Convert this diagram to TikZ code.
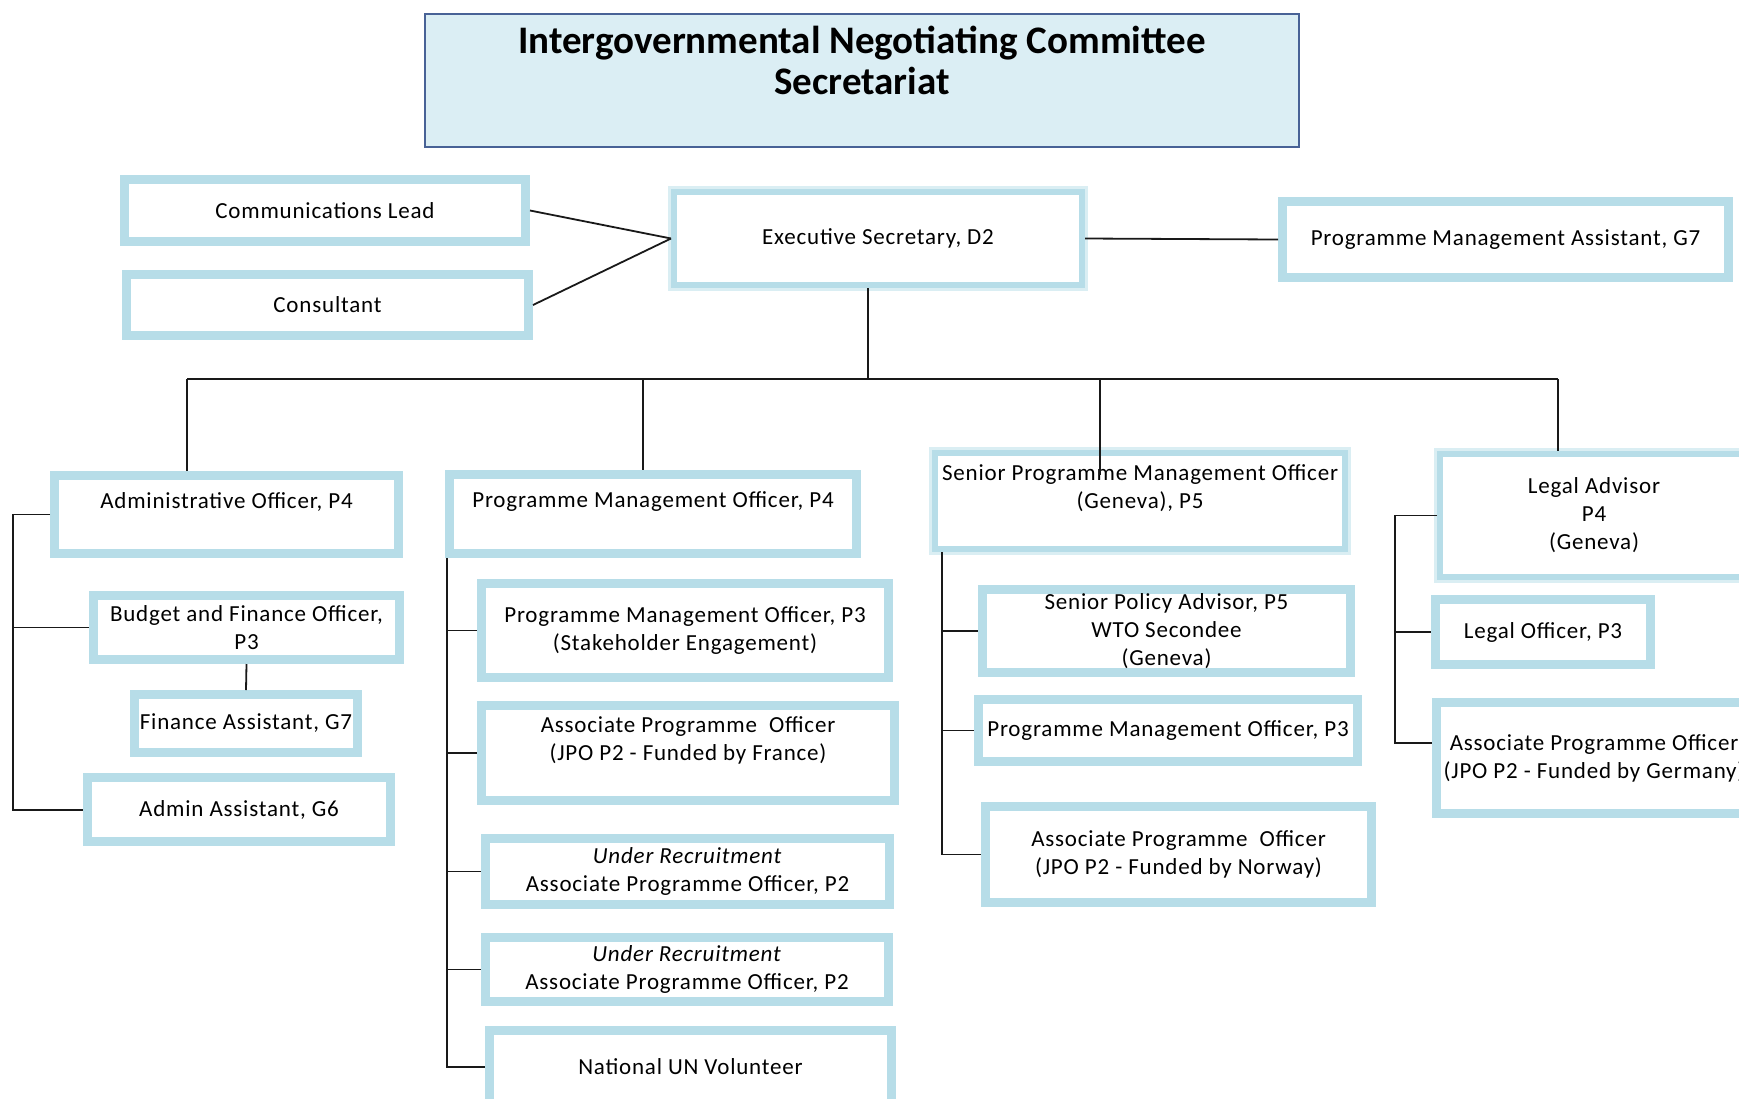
\documentclass[tikz,border=0pt]{standalone}
\usepackage{fontspec}
\setmainfont{Carlito}[LetterSpace=3.5]
\newfontfamily\titlefont{Carlito}
\usepackage{tikz}

\definecolor{boxblue}{RGB}{183,221,232}
\definecolor{paleblue}{RGB}{218,238,243}
\definecolor{titlefill}{RGB}{219,238,244}
\definecolor{titleline}{RGB}{72,98,150}

\tikzset{
  post/.style={draw=boxblue, line width=4.3pt, fill=white, align=center, inner sep=2pt,
    font=\fontsize{11.5}{14}\selectfont},
  headpost/.style={post, line width=3pt, preaction={draw=paleblue, line width=6pt}},
  title/.style={draw=titleline, fill=titlefill, line width=1.1pt, align=center, inner sep=0pt,
    font=\titlefont\fontsize{19.5}{20.5}\selectfont\bfseries},
  link/.style={draw=black!90, line width=0.9pt}
}

\begin{document}
\begin{tikzpicture}[x=0.5pt, y=-0.5pt]
  \useasboundingbox (0,0) rectangle (1739,1098);

  % secretariat
  \node[title, minimum width=437pt, minimum height=66.5pt] (ttl) at (862,80.5)
    {Intergovernmental Negotiating Committee\\Secretariat\\~};

  % direction
  \node[headpost, minimum width=204pt, minimum height=46.5pt] (exec) at (878,238.5) {Executive Secretary, D2};
  \node[post, minimum width=200.7pt, minimum height=31.2pt] (comm) at (325,210.5) {Communications Lead};
  \node[post, minimum width=201.2pt, minimum height=30.7pt] (cons) at (327.5,305) {Consultant};
  \node[post, minimum width=223.2pt, minimum height=38.2pt] (pma) at (1505.5,239.5) {Programme Management Assistant, G7};

  % administration
  \node[post, minimum width=172.2pt, minimum height=39.2pt] (adm) at (226.5,514.5) {Administrative Officer, P4\\~};
  \node[post, minimum width=153.2pt, minimum height=32.2pt] (bfo) at (246.5,627.5) {Budget and Finance Officer,\\P3};
  \node[post, minimum width=111.7pt, minimum height=29.2pt] (fa) at (246,723.5) {Finance Assistant, G7};
  \node[post, minimum width=151.7pt, minimum height=32.2pt] (aa) at (239,809.5) {Admin Assistant, G6};

  % programme
  \node[post, minimum width=203.7pt, minimum height=39.7pt] (pmo4) at (653,514) {Programme Management Officer, P4\\~};
  \node[post, minimum width=203.7pt, minimum height=47.2pt] (pmo3s) at (685,630.5) {Programme Management Officer, P3\\(Stakeholder Engagement)};
  \node[post, minimum width=206.7pt, minimum height=47.7pt] (apofr) at (688,753) {Associate Programme~ Officer\\(JPO P2 - Funded by France)\\~};
  \node[post, minimum width=202.2pt, minimum height=33.2pt] (ur1) at (687.5,871.5) {\textit{Under Recruitment}\\Associate Programme Officer, P2};
  \node[post, minimum width=201.7pt, minimum height=32.2pt] (ur2) at (687,969.5) {\textit{Under Recruitment}\\Associate Programme Officer, P2};
  \node[post, minimum width=201.2pt, minimum height=36.7pt] (nuv) at (690.5,1067) {National UN Volunteer};

  % geneva
  \node[headpost, minimum width=205pt, minimum height=48pt] (spmo) at (1140,501) {Senior Programme Management Officer\\(Geneva), P5\\~};
  \node[post, minimum width=184.2pt, minimum height=40.7pt] (spa) at (1166.5,631) {Senior Policy Advisor, P5\\WTO Secondee\\(Geneva)};
  \node[post, minimum width=189.7pt, minimum height=31.2pt] (pmo3g) at (1168,730.5) {Programme Management Officer, P3};
  \node[post, minimum width=193.2pt, minimum height=48.2pt] (apono) at (1178.5,854.5) {Associate Programme~ Officer\\(JPO P2 - Funded by Norway)};

  % legal
  \node[headpost, minimum width=154pt, minimum height=61.5pt] (legal) at (1594,515.5) {Legal Advisor\\P4\\(Geneva)};
  \node[post, minimum width=107.7pt, minimum height=32.7pt] (lo) at (1543,632) {Legal Officer, P3};
  \node[post, minimum width=157.7pt, minimum height=55.7pt] (apode) at (1594,758) {Associate Programme Officer\\(JPO P2 - Funded by Germany)};

  % liens
  \draw[link] (comm.east) -- (exec.west);
  \draw[link] (cons.east) -- (exec.west);
  \draw[link] (exec.east) -- (pma.west);

  \coordinate (top) at (868,379);
  \coordinate (b1) at (187,379);
  \coordinate (b2) at (643,379);
  \coordinate (b3) at (1100,379);
  \coordinate (b4) at (1558,379);
  \draw[link] (exec.south -| top) -- (top);
  \draw[link] (b1) -- (b4);
  \foreach \b/\n in {b1/adm, b2/pmo4, b4/legal}
    \draw[link] (\b) -- (\b |- \n.north);
  \draw[link] (b3) -- ++(0,96);

  % brackets
  \coordinate (lb1) at (13,810);
  \draw[link] (adm.west) -| (lb1) -- (lb1 -| aa.west);
  \draw[link] (bfo.west -| lb1) -- (bfo.west);
  \draw[link] (bfo.south) -- (fa.north);

  \coordinate (lb2) at (447,1067);
  \draw[link] (pmo4.south -| lb2) -- (lb2) -- (nuv.west);
  \foreach \n in {pmo3s, apofr, ur1, ur2}
    \draw[link] (\n.west -| lb2) -- (\n.west);

  \coordinate (lb3) at (942,854.5);
  \draw[link] (spmo.south -| lb3) -- (lb3) -- (apono.west);
  \foreach \n in {spa, pmo3g}
    \draw[link] (\n.west -| lb3) -- (\n.west);

  \coordinate (lb4) at (1395,743);
  \draw[link] (legal.west) -| (lb4) -- (lb4 -| apode.west);
  \draw[link] (lo.west -| lb4) -- (lo.west);

\end{tikzpicture}
\end{document}
